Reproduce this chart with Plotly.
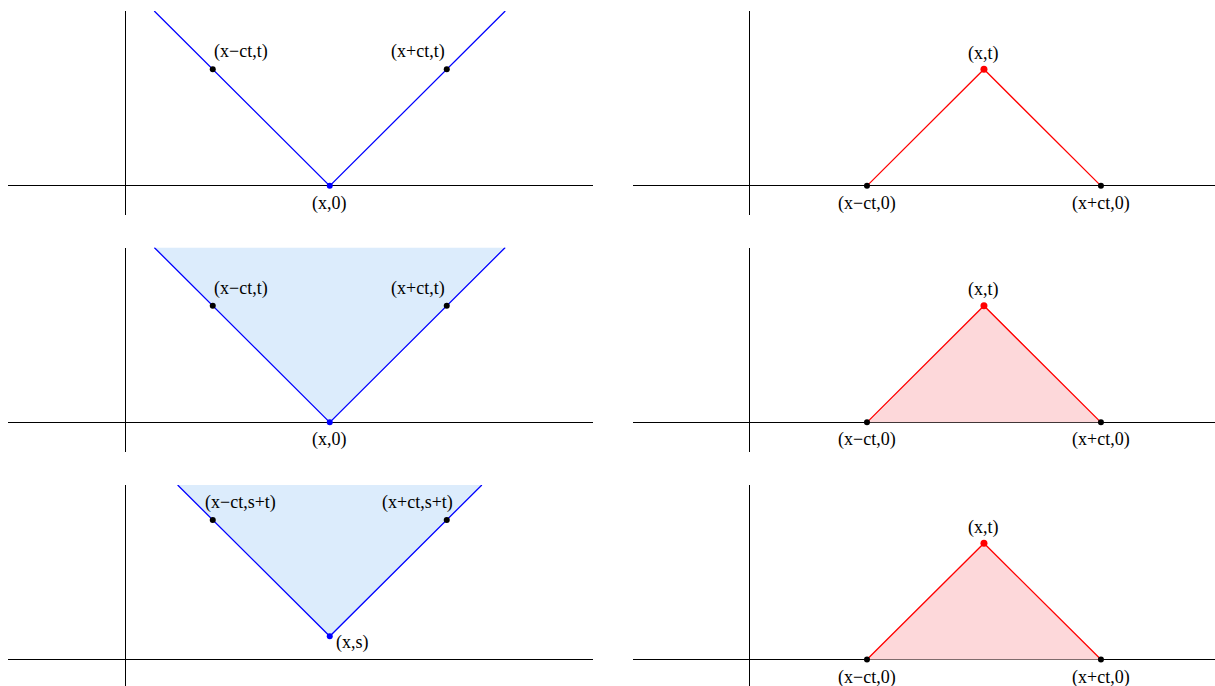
import plotly.graph_objects as go
from plotly.subplots import make_subplots

# left column: characteristic cone from (x,0) / (x,s)
cone_x = [0.25, 1.75, 3.25]
cone_y = [1.5, 0, 1.5]
cone_s_x = [0.45, 1.75, 3.05]
cone_s_y = [1.5, 0.2, 1.5]
foot_pts_x = [0.75, 2.75]
foot_pts_y = [1, 1]
foot_pts_s_y = [1.2, 1.2]
apex_x = [1.75]
apex_y = [0]
apex_s_y = [0.2]

# right column: domain of dependence triangle
tri_x = [1, 2, 3]
tri_y = [0, 1, 0]
base_pts_x = [1, 3]
base_pts_y = [0, 0]
top_x = [2]
top_y = [1]

lbl_cone = ['(x\u2212ct,t)', '(x+ct,t)', '(x,0)']
lbl_cone_s = ['(x\u2212ct,s+t)', '(x+ct,s+t)', '(x,s)']
lbl_tri = ['(x\u2212ct,0)', '(x+ct,0)', '(x,t)']

BLUE = '#0000ff'
RED = '#ff0000'
BLUE_FILL = '#dcecfc'
RED_FILL = '#fdd8da'
FONT = dict(family='Liberation Serif, Times New Roman, serif', size=18, color='black')

fig = make_subplots(rows=3, cols=2)


def dot(x, y, color, size, row, col):
    fig.add_trace(go.Scatter(x=x, y=y, mode='markers',
                             marker=dict(color=color, size=size),
                             hoverinfo='skip'), row=row, col=col)


def label(x, y, text, row, col, xs=0, ys=0):
    fig.add_annotation(x=x, y=y, text=text, showarrow=False,
                       xanchor='center', yanchor='middle',
                       xshift=xs, yshift=ys, font=FONT, row=row, col=col)


# ---- left column ----
for row in [1, 2, 3]:
    cx, cy = (cone_s_x, cone_s_y) if row == 3 else (cone_x, cone_y)
    py = foot_pts_s_y if row == 3 else foot_pts_y
    ay = apex_s_y if row == 3 else apex_y
    labels = lbl_cone_s if row == 3 else lbl_cone
    if row > 1:
        fig.add_trace(go.Scatter(x=cx, y=cy, fill='toself', fillcolor=BLUE_FILL,
                                 mode='lines', line=dict(width=0), hoverinfo='skip'),
                      row=row, col=1)
    fig.add_trace(go.Scatter(x=cx, y=cy, mode='lines', line=dict(color=BLUE, width=1.3),
                             hoverinfo='skip'), row=row, col=1)
    dot(foot_pts_x, py, 'black', 6, row, 1)
    dot(apex_x, ay, BLUE, 6, row, 1)
    label(foot_pts_x[0], py[0], labels[0], row, 1, xs=28, ys=17.5)
    label(foot_pts_x[1], py[1], labels[1], row, 1, xs=-29, ys=17.5)
    if row == 3:
        label(apex_x[0], ay[0], labels[2], row, 1, xs=23, ys=-6)
    else:
        label(apex_x[0], ay[0], labels[2], row, 1, ys=-17.5)

# ---- right column ----
for row in [1, 2, 3]:
    if row > 1:
        fig.add_trace(go.Scatter(x=tri_x, y=tri_y, fill='toself', fillcolor=RED_FILL,
                                 mode='lines', line=dict(width=0), hoverinfo='skip'),
                      row=row, col=2)
    fig.add_trace(go.Scatter(x=tri_x, y=tri_y, mode='lines', line=dict(color=RED, width=1.3),
                             hoverinfo='skip'), row=row, col=2)
    dot(base_pts_x, base_pts_y, 'black', 6, row, 2)
    dot(top_x, top_y, RED, 7, row, 2)
    label(base_pts_x[0], base_pts_y[0], lbl_tri[0], row, 2, ys=-17.5)
    label(base_pts_x[1], base_pts_y[1], lbl_tri[1], row, 2, ys=-17.5)
    label(top_x[0], top_y[0], lbl_tri[2], row, 2, ys=16)

# axes: only the coordinate cross, no ticks or grid
ax_style = dict(showgrid=False, zeroline=True, zerolinecolor='black', zerolinewidth=1,
                showticklabels=False, ticks='', showline=False, fixedrange=True)
fig.update_xaxes(**ax_style)
fig.update_yaxes(**ax_style)

W, H = 1215, 686
col_dom = {1: [8 / W, 593 / W], 2: [633 / W, 1.0]}
col_rng = {1: [-1, 4.0], 2: [-1, 3.975]}
row_dom = {1: [1 - 215 / H, 1 - 11 / H], 2: [1 - 451.5 / H, 1 - 247.5 / H], 3: [0, 1 - 485 / H]}
row_rng = {1: [-0.25, 1.5], 2: [-0.25, 1.5], 3: [-0.227, 1.5]}
for r in [1, 2, 3]:
    for c in [1, 2]:
        fig.update_xaxes(domain=col_dom[c], range=col_rng[c], row=r, col=c)
        fig.update_yaxes(domain=row_dom[r], range=row_rng[r], row=r, col=c)

fig.update_layout(
    width=W, height=H,
    margin=dict(l=0, r=0, t=0, b=0),
    showlegend=False,
    plot_bgcolor='white', paper_bgcolor='white',
)

# drop the default 8px page margin so the figure fills the window
fig.write_html("out.html", config={'displayModeBar': False},
               post_script="document.body.style.margin='0';document.body.style.overflow='hidden';")
